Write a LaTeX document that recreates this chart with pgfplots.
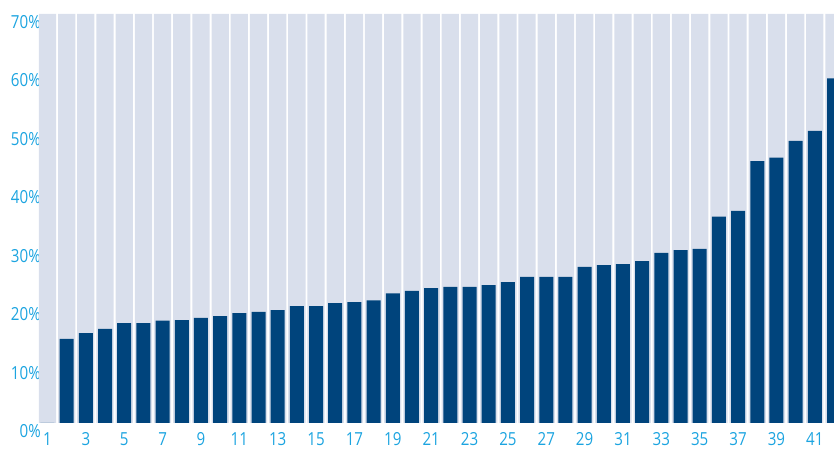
\documentclass[border=0pt]{standalone}
\usepackage{pgfplots}
\pgfplotsset{compat=1.18}
\usepackage{pgfplotstable}
\usepackage{fontspec}
\setmainfont{Open Sans}[FakeStretch=0.84]
\definecolor{navy}{HTML}{00447C}
\definecolor{lightbg}{HTML}{D9DFEC}
\definecolor{lab}{HTML}{1CA4E0}
\pgfplotstableread{
x y
1 0
2 14.4
3 15.4
4 16.1
5 17.1
6 17.1
7 17.5
8 17.6
9 18.0
10 18.3
11 18.8
12 19.0
13 19.3
14 20.0
15 20.0
16 20.5
17 20.7
18 21.0
19 22.2
20 22.6
21 23.1
22 23.3
23 23.3
24 23.6
25 24.1
26 25.0
27 25.0
28 25.0
29 26.7
30 27.0
31 27.2
32 27.7
33 29.1
34 29.6
35 29.8
36 35.3
37 36.3
38 44.8
39 45.4
40 48.3
41 50.0
42 59.0
}\datatable
\pgfplotstableread{
x y
1 70
2 70
3 70
4 70
5 70
6 70
7 70
8 70
9 70
10 70
11 70
12 70
13 70
14 70
15 70
16 70
17 70
18 70
19 70
20 70
21 70
22 70
23 70
24 70
25 70
26 70
27 70
28 70
29 70
30 70
31 70
32 70
33 70
34 70
35 70
36 70
37 70
38 70
39 70
40 70
41 70
42 70
}\bgtable
\begin{document}
\begin{tikzpicture}
\begin{axis}[
  at={(37.9pt,26pt)}, anchor=south west,
  scale only axis, width=796.1pt, height=409pt,
  xmin=0.5, xmax=42, ymin=0, ymax=70,
  axis line style={draw=none},
  major tick length=0pt,
  xtick={1,3,...,41},
  xticklabels={1,3,5,7,9,11,13,15,17,19,21,23,25,27,29,31,33,35,37,39,41},
  ytick={0,10,...,70},
  yticklabels={0\%,10\%,20\%,30\%,40\%,50\%,60\%,70\%},
  /pgf/number format/assume math mode=true,
  tick label style={font=\fontsize{18}{20}\selectfont, text=lab},
  yticklabel style={anchor=east, inner sep=0pt, xshift=3pt, yshift=-8pt},
  xticklabel style={anchor=north, inner sep=0pt, yshift=-9.5pt},
]
\addplot[ybar, bar width=0.9, bar shift=0pt, fill=lightbg, draw=none] table[x=x,y=y] {\bgtable};
\addplot[ybar, bar width=0.73, bar shift=0pt, fill=navy, draw=none] table[x=x,y=y] {\datatable};
\end{axis}
\pgfresetboundingbox
\path[use as bounding box] (0,0) rectangle (834pt,449pt);
\end{tikzpicture}
\end{document}
